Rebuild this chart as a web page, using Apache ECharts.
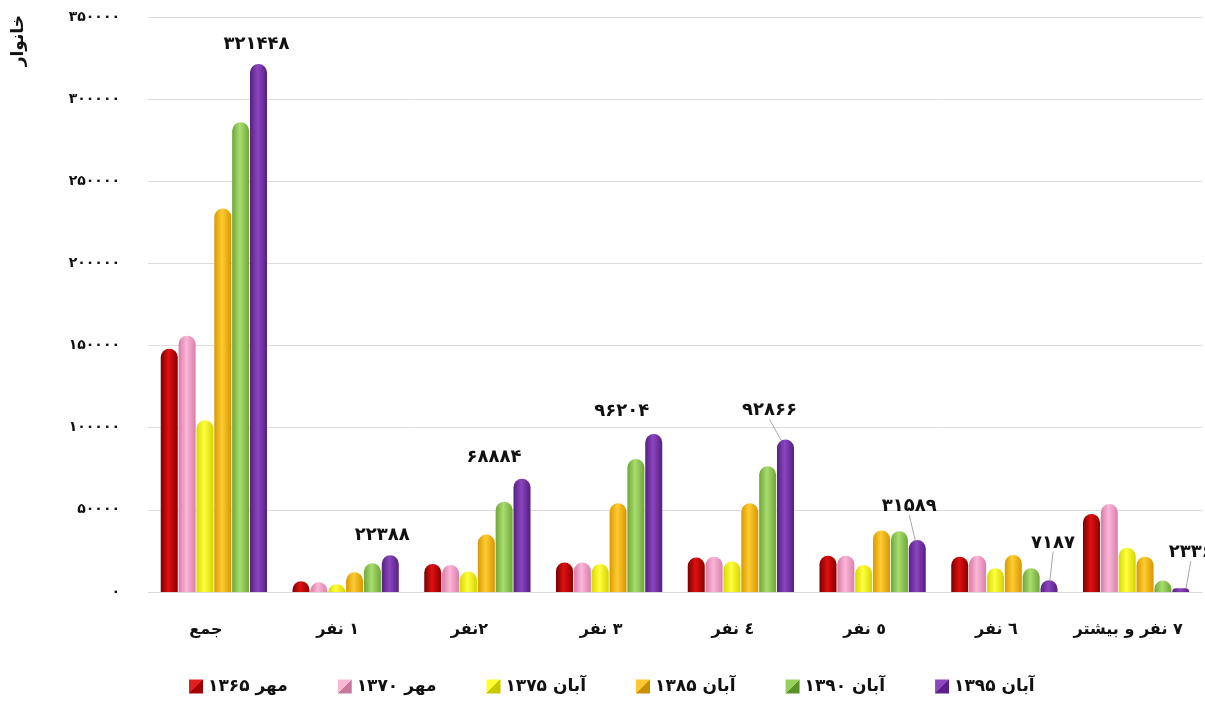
<!DOCTYPE html>
<html>
<head>
<meta charset="utf-8">
<script src="https://cdn.jsdelivr.net/npm/echarts@6/dist/echarts.min.js"></script>
<style>
html,body{margin:0;padding:0;background:#fff;}
#chart{width:1205px;height:713px;}
</style>
</head>
<body>
<div id="chart"></div>
<script>
// ---- data ----
const categories = ['جمع', '١ نفر', '٢نفر', '٣ نفر', '٤ نفر', '٥ نفر', '٦ نفر', '٧ نفر و بیشتر'];
const seriesNames = ['مهر ۱۳۶۵', 'مهر ۱۳۷۰', 'آبان ۱۳۷۵', 'آبان ۱۳۸۵', 'آبان ۱۳۹۰', 'آبان ۱۳۹۵'];
const mehr1365 = [148000, 6500, 17000, 18000, 21000, 22000, 21500, 47500];
const mehr1370 = [156000, 6000, 16500, 18000, 21500, 22000, 22000, 53500];
const aban1375 = [104500, 4500, 12500, 17000, 18500, 16500, 14500, 27000];
const aban1385 = [233500, 12000, 35000, 54000, 54000, 37500, 22500, 21500];
const aban1390 = [286000, 17500, 55000, 81000, 76500, 37000, 14500, 7000];
const aban1395 = [321448, 22388, 68884, 96204, 92866, 31589, 7187, 2336];
const yTicks = [0, 50000, 100000, 150000, 200000, 250000, 300000, 350000];
const yAxisTitle = 'خانوار';

const allValues = [mehr1365, mehr1370, aban1375, aban1385, aban1390, aban1395];
const baseColors = [
  ['#7a0000', '#e01010', '#8a0000'],
  ['#d77aa6', '#fbb6d8', '#d880a9'],
  ['#d8d800', '#ffff40', '#d4d400'],
  ['#d99a00', '#ffcc33', '#d69600'],
  ['#6fa636', '#a8de70', '#6fa636'],
  ['#56207f', '#8b45c0', '#55207e']
];
const legendColors = [
  ['#e02020', '#a00000'],
  ['#f8b8d4', '#c8789c'],
  ['#ffff30', '#c8c800'],
  ['#ffc830', '#c89000'],
  ['#98d060', '#5c9028'],
  ['#8a48bc', '#582088']
];

const fa = s => String(s).replace(/\d/g, d => '۰۱۲۳۴۵۶۷۸۹'[d]);
const FONT = 'DejaVu Sans';

// label offsets for the last series (relative to default top position)
const labelShift = [[-2, -6], [-8, -6], [-28, -8], [-32, -9], [-16, -15], [-8, -20], [4, -23], [10, -22]];

const series = allValues.map((vals, si) => {
  const c = baseColors[si];
  const isLast = si === allValues.length - 1;
  return {
    name: seriesNames[si],
    type: 'bar',
    barWidth: 17,
    barGap: '5%',
    itemStyle: {
      color: new echarts.graphic.LinearGradient(0, 0, 1, 0, [
        {offset: 0, color: c[0]},
        {offset: 0.45, color: c[1]},
        {offset: 1, color: c[2]}
      ]),
      borderRadius: [9, 9, 0, 0]
    },
    data: vals.map((v, i) => isLast ? {value: v, labelLine: {show: i >= 4}} : v),
    label: isLast ? {
      show: true,
      position: 'top',
      distance: 5,
      color: '#111',
      fontFamily: FONT,
      fontWeight: 'bold',
      fontSize: 18,
      formatter: p => fa(p.value)
    } : {show: false},
    labelLine: isLast ? {show: false, lineStyle: {color: '#a6a6a6', width: 1}} : undefined,
    labelLayout: isLast ? (p => ({dx: labelShift[p.dataIndex][0], dy: labelShift[p.dataIndex][1]})) : undefined
  };
});

const chart = echarts.init(document.getElementById('chart'));
chart.setOption({
  backgroundColor: '#fff',
  animation: false,
  grid: {left: 148, right: 3, top: 17, bottom: 121},
  legend: {
    bottom: 13,
    left: 184,
    itemWidth: 14,
    itemHeight: 14,
    itemGap: 50,
    icon: 'rect',
    data: seriesNames.map((n, i) => ({
      name: n,
      itemStyle: {color: new echarts.graphic.LinearGradient(0, 0, 1, 1, [
        {offset: 0, color: legendColors[i][0]},
        {offset: 0.5, color: legendColors[i][0]},
        {offset: 0.5, color: legendColors[i][1]},
        {offset: 1, color: legendColors[i][1]}
      ])}
    })),
    textStyle: {fontFamily: FONT, fontWeight: 'bold', fontSize: 17, color: '#111'}
  },
  graphic: [{
    type: 'text',
    left: 10,
    top: 15,
    rotation: Math.PI / 2,
    style: {text: yAxisTitle, font: 'bold 17px "DejaVu Sans"', fill: '#111'}
  }],
  xAxis: {
    type: 'category',
    data: categories,
    axisTick: {show: false},
    axisLine: {show: true, lineStyle: {color: '#d9d9d9'}},
    axisLabel: {
      interval: 0, margin: 30, padding: [0, 16, 0, 0],
      color: '#111', fontFamily: FONT, fontWeight: 'bold', fontSize: 16
    }
  },
  yAxis: {
    type: 'value',
    min: yTicks[0],
    max: yTicks[yTicks.length - 1],
    interval: yTicks[1] - yTicks[0],
    axisLine: {show: false},
    axisTick: {show: false},
    splitLine: {lineStyle: {color: '#dcdcdc'}},
    axisLabel: {margin: 28, color: '#111', fontFamily: FONT, fontWeight: 'bold', fontSize: 14, formatter: v => fa(v)}
  },
  series: series
});
</script>
</body>
</html>
